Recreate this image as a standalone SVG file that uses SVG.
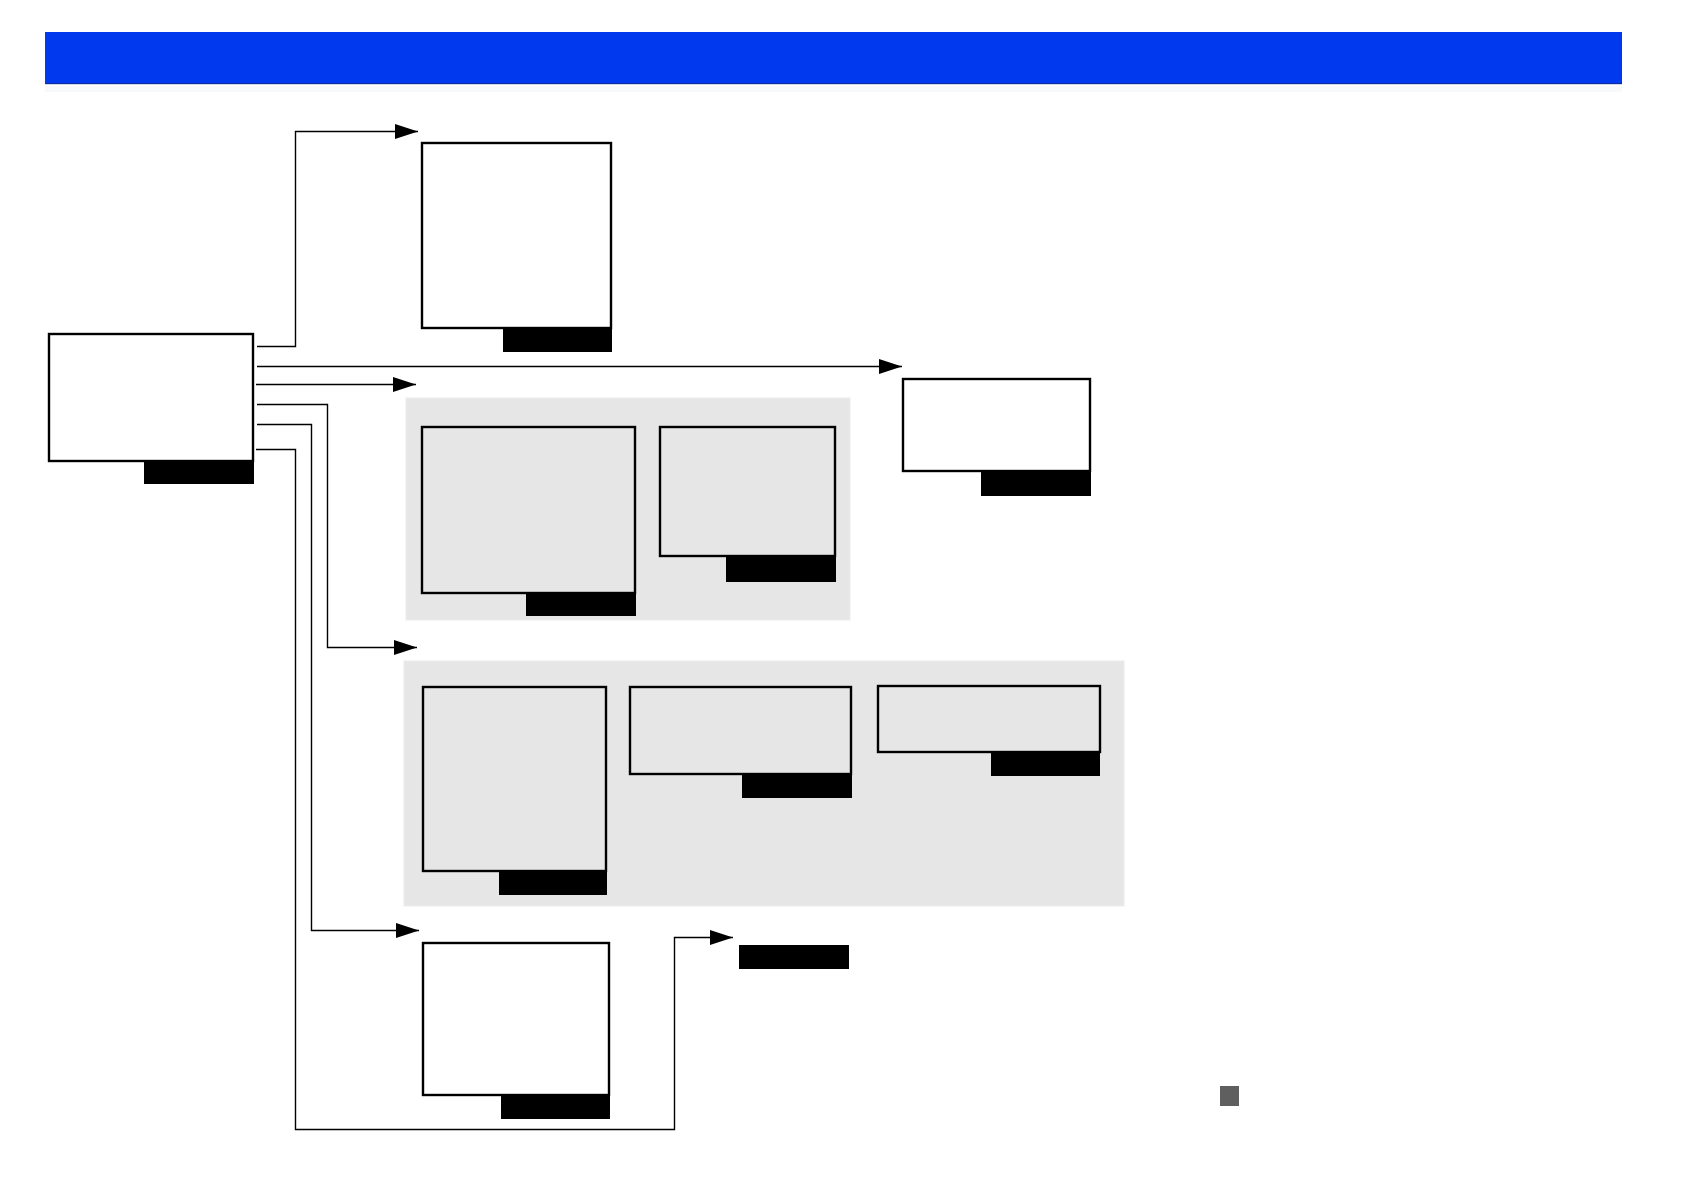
<svg xmlns="http://www.w3.org/2000/svg" width="1684" height="1190" viewBox="0 0 1684 1190">
<defs>
<style>
.node{fill:#ffffff;stroke:#000;stroke-width:2.4}
.inner{fill:#e6e6e6;stroke:#000;stroke-width:2.4}
.tab{fill:#000}
.group{fill:#e6e6e6;stroke:#ececec;stroke-width:1}
.conn{fill:none;stroke:#000;stroke-width:1.4}
</style>
<marker id="arr" markerUnits="userSpaceOnUse" markerWidth="24" markerHeight="15" refX="23" refY="7.5" orient="auto">
<path d="M0,0 L23,7.5 L0,15 Z" fill="#000"/>
</marker>
</defs>
<rect width="1684" height="1190" fill="#fff"/>
<g id="header">
<rect x="45" y="86" width="1577" height="6" fill="#f7f9fb"/>
<rect x="45" y="32" width="1577" height="52" fill="#0039ee"/>
<rect x="45" y="83" width="1577" height="1.2" fill="#0a2f9e"/>
</g>
<g id="group1"><rect class="group" x="406" y="398" width="444" height="222"/></g>
<g id="group2"><rect class="group" x="404" y="661" width="720" height="245"/></g>
<g id="connectors">
<path class="conn" d="M257,346.5 H295.5 V131.5 H418" marker-end="url(#arr)"/>
<path class="conn" d="M257,366.5 H902" marker-end="url(#arr)"/>
<path class="conn" d="M256,384.5 H416" marker-end="url(#arr)"/>
<path class="conn" d="M257,404.5 H327.5 V647.5 H417" marker-end="url(#arr)"/>
<path class="conn" d="M257,424.5 H311.5 V930.5 H419" marker-end="url(#arr)"/>
<path class="conn" d="M256,449.5 H295.5 V1129.5 H674.5 V937.5 H733" marker-end="url(#arr)"/>
</g>
<g id="main"><rect class="node" x="49" y="334" width="204" height="127"/><rect class="tab" x="144" y="461" width="110" height="23"/></g>
<g id="nodeA"><rect class="node" x="422" y="143" width="189" height="185"/><rect class="tab" x="503" y="328" width="109" height="24"/></g>
<g id="nodeB"><rect class="node" x="903" y="379" width="187" height="92"/><rect class="tab" x="981" y="471" width="110" height="25"/></g>
<g id="nodeC1"><rect class="inner" x="422" y="427" width="213" height="166"/><rect class="tab" x="526" y="593" width="110" height="23"/></g>
<g id="nodeC2"><rect class="inner" x="660" y="427" width="175" height="129"/><rect class="tab" x="726" y="556" width="110" height="26"/></g>
<g id="nodeD1"><rect class="inner" x="423" y="687" width="183" height="184"/><rect class="tab" x="499" y="871" width="108" height="24"/></g>
<g id="nodeD2"><rect class="inner" x="630" y="687" width="221" height="87"/><rect class="tab" x="742" y="774" width="110" height="24"/></g>
<g id="nodeD3"><rect class="inner" x="878" y="686" width="222" height="66"/><rect class="tab" x="991" y="752" width="109" height="24"/></g>
<g id="nodeE"><rect class="node" x="423" y="943" width="186" height="152"/><rect class="tab" x="501" y="1095" width="109" height="24"/></g>
<g id="nodeF"><rect class="tab" x="739" y="945" width="110" height="24"/></g>
<g id="legend"><rect x="1220" y="1086" width="19" height="20" fill="#5f5f5f"/></g>
</svg>
